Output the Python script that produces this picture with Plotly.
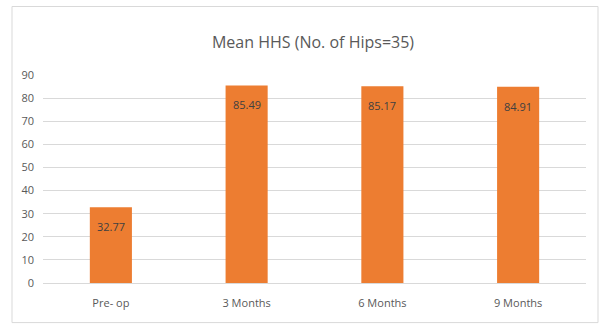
import plotly.graph_objects as go

categories = ["Pre- op", "3 Months", "6 Months", "9 Months"]
values = [32.77, 85.49, 85.17, 84.91]
labels = ["32.77", "85.49", "85.17", "84.91"]
y_ticks = [0, 10, 20, 30, 40, 50, 60, 70, 80, 90]

FONT = "Open Sans, sans-serif"

fig = go.Figure(go.Bar(
    x=categories, y=values,
    marker=dict(color="#ED7D31", line=dict(width=0)),
    width=0.31,
))

for c, v, t in zip(categories, values, labels):
    fig.add_annotation(x=c, y=v, text=t, showarrow=False, yanchor="top", yshift=-10,
                       font=dict(color="#404040", size=11, family=FONT))

L, R, T, B = 43, 17, 74.7, 41.7
W, H = 603, 325
pw = W - L - R
ph = H - T - B

fig.update_layout(
    width=W, height=H,
    margin=dict(l=L, r=R, t=T, b=B),
    paper_bgcolor="white", plot_bgcolor="white",
    title=dict(text="Mean HHS (No. of Hips=35)", x=313 / W, xanchor="center",
               y=1 - 42 / H, yanchor="middle",
               font=dict(size=16, color="#595959", family=FONT)),
    showlegend=False,
    xaxis=dict(showgrid=False, showline=True, linecolor="#D9D9D9", linewidth=1,
               ticks="", tickfont=dict(size=11, color="#595959", family=FONT),
               ticklabelstandoff=10),
    yaxis=dict(range=[0, 90], tickvals=y_ticks, showgrid=True, gridcolor="#D9D9D9",
               gridwidth=1, zeroline=False, showline=False, ticks="",
               tickfont=dict(size=11, color="#595959", family=FONT),
               ticklabelstandoff=8),
    shapes=[dict(type="rect", xref="paper", yref="paper",
                 x0=(12 - L) / pw, x1=(598 - L) / pw,
                 y0=(H - B - 323) / ph, y1=(H - B - 6) / ph,
                 line=dict(color="#D9D9D9", width=1), layer="below")],
)

fig.write_html("out.html")
